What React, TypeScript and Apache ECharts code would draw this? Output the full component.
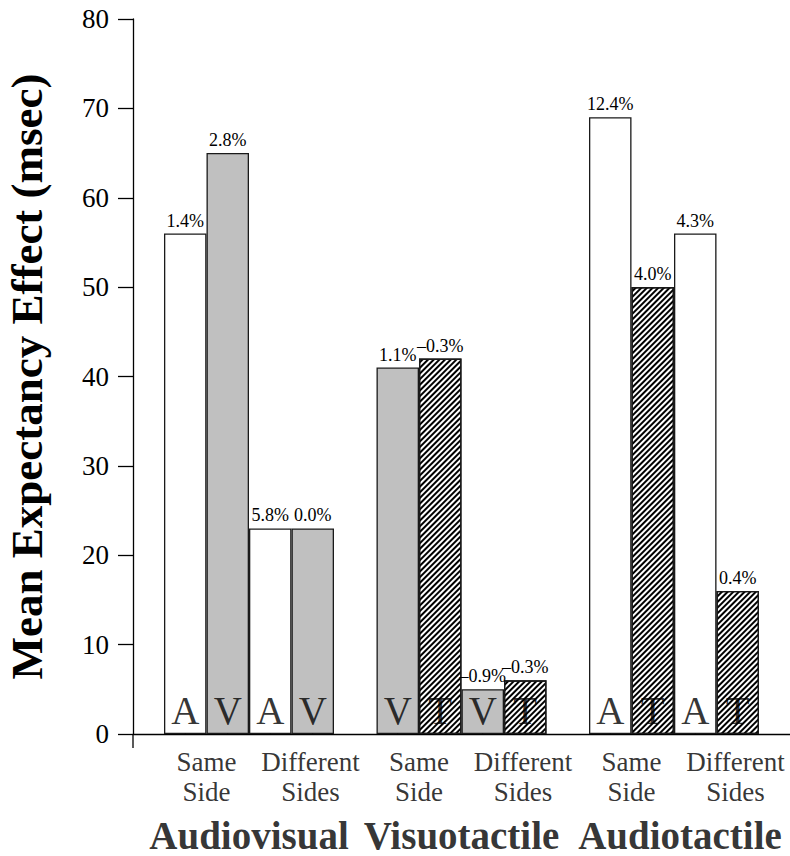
import React, { useEffect, useRef } from "react";
import * as echarts from "echarts";

// ---- data ----
const groups = ["Audiovisual", "Visuotactile", "Audiotactile"];
const conditions = ["Same\nSide", "Different\nSides"];
const modalities = ["A", "V", "A", "V", "V", "T", "V", "T", "A", "T", "A", "T"];
const values = [56, 65, 23, 23, 41, 42, 5, 6, 69, 50, 56, 16];
const errorRates = ["1.4%", "2.8%", "5.8%", "0.0%", "1.1%", "\u20130.3%", "\u20130.9%", "\u20130.3%", "12.4%", "4.0%", "4.3%", "0.4%"];
const yTicks = [0, 10, 20, 30, 40, 50, 60, 70, 80];

const FONT = "'Liberation Serif', 'Times New Roman', serif";
const SLOTS_PER_GROUP = 5; // 4 bars + 1 gap

function slotOf(i: number) {
  const g = Math.floor(i / 4);
  const p = Math.floor((i % 4) / 2);
  const b = i % 2;
  return g * SLOTS_PER_GROUP + p * 2 + b + 0.5;
}

function styleFor(m: string) {
  if (m === "V") return { color: "#c0c0c0", borderColor: "#1a1a1a", borderWidth: 1.3 };
  if (m === "T")
    return {
      color: "#ffffff",
      borderColor: "#1a1a1a",
      borderWidth: 1.3,
      decal: {
        symbol: "rect",
        symbolSize: 1,
        dashArrayX: [1, 0],
        dashArrayY: [2, 2],
        rotation: -Math.PI / 4,
        color: "#000000",
      },
    };
  return { color: "#ffffff", borderColor: "#1a1a1a", borderWidth: 1.3 };
}

export default function App() {
  const ref = useRef<HTMLDivElement>(null);
  useEffect(() => {
    if (!ref.current) return;
    const chart = echarts.init(ref.current, undefined, { renderer: "svg" });
    const xMin = -0.7294;
    const xMax = 14.7294;

    const barData = values.map((v, i) => ({
      value: [slotOf(i), v],
      itemStyle: styleFor(modalities[i]),
      label: { formatter: errorRates[i] },
    }));
    const letterData = modalities.map((m, i) => ({ value: [slotOf(i), 0], name: m }));
    const condData: any[] = [];
    groups.forEach((_, g) => {
      conditions.forEach((c, p) => {
        condData.push({
          value: [g * SLOTS_PER_GROUP + p * 2 + 1, 0],
          name: c,
          label: { offset: [p === 1 ? 19 : 0, 0] },
        });
      });
    });
    const groupData = groups.map((gname, g) => ({
      value: [g * SLOTS_PER_GROUP + 2, 0],
      name: gname,
      label: { offset: [g === 2 ? 6 : 0, 0] },
    }));

    const hiddenPoint = { symbolSize: 1, itemStyle: { color: "#000" }, clip: false, silent: true };

    chart.setOption({
      animation: false,
      backgroundColor: "#ffffff",
      grid: {
        left: 133,
        right: 0,
        top: 19,
        bottom: 122,
        containLabel: false,
        outerBoundsMode: "none",
      },
      xAxis: {
        type: "value",
        min: xMin,
        max: xMax,
        axisLine: { show: true, onZero: true, lineStyle: { color: "#000", width: 1.3 } },
        axisTick: { show: false },
        axisLabel: { show: false },
        splitLine: { show: false },
      },
      yAxis: {
        type: "value",
        min: yTicks[0],
        max: yTicks[yTicks.length - 1],
        interval: 10,
        name: "Mean Expectancy Effect (msec)",
        nameLocation: "middle",
        nameRotate: 90,
        nameGap: 84,
        nameTextStyle: { fontFamily: FONT, fontWeight: "bold", fontSize: 45, color: "#000" },
        axisLine: { show: true, onZero: false, lineStyle: { color: "#000", width: 1.3 } },
        axisTick: { show: true, inside: false, length: 15, lineStyle: { color: "#000", width: 1.3 } },
        axisLabel: { margin: 24, fontFamily: FONT, fontSize: 27, color: "#000" },
        splitLine: { show: false },
      },
      series: [
        {
          type: "bar",
          data: barData,
          barWidth: "100%",
          label: {
            show: true,
            position: "top",
            distance: 4,
            fontFamily: FONT,
            fontSize: 18,
            color: "#000",
          },
        },
        {
          type: "scatter",
          data: letterData,
          ...hiddenPoint,
          label: {
            show: true,
            position: "inside",
            offset: [0, -24],
            formatter: "{b}",
            fontFamily: FONT,
            fontSize: 39,
            color: "#000",
            textBorderWidth: 0,
          },
          z: 5,
        },
        {
          type: "scatter",
          data: condData,
          ...hiddenPoint,
          label: {
            show: true,
            position: "bottom",
            distance: 12,
            formatter: "{b}",
            fontFamily: FONT,
            fontSize: 27,
            lineHeight: 30,
            align: "center",
            color: "#000",
          },
        },
        {
          type: "scatter",
          data: groupData,
          ...hiddenPoint,
          label: {
            show: true,
            position: "bottom",
            distance: 81,
            formatter: "{b}",
            fontFamily: FONT,
            fontWeight: "bold",
            fontSize: 39,
            lineHeight: 40,
            color: "#000",
          },
        },
      ],
    });

    const p0 = chart.convertToPixel({ gridIndex: 0 }, [xMin, 0]) as number[];
    chart.setOption({
      graphic: [
        {
          type: "line",
          shape: { x1: p0[0], y1: p0[1], x2: p0[0], y2: p0[1] + 14 },
          style: { stroke: "#000", lineWidth: 1.3 },
        },
      ],
    });

    return () => chart.dispose();
  }, []);
  return (
    <div
      ref={ref}
      style={{ position: "fixed", left: 0, top: 0, width: 790, height: 856, background: "#fff" }}
    />
  );
}
